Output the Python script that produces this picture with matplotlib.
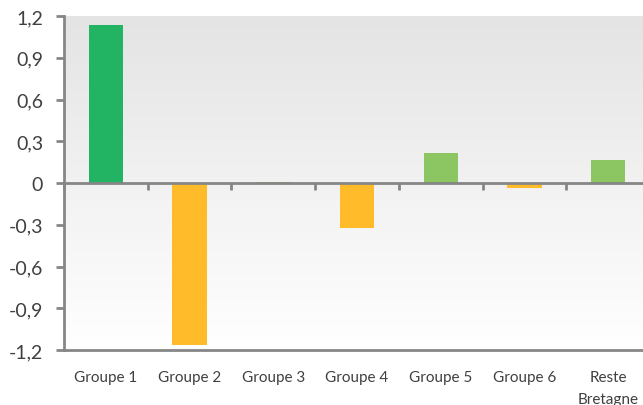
import numpy as np
import matplotlib.pyplot as plt
from matplotlib.ticker import FuncFormatter
from matplotlib.colors import LinearSegmentedColormap
from matplotlib.markers import TICKDOWN

categories = ["Groupe 1", "Groupe 2", "Groupe 3", "Groupe 4", "Groupe 5", "Groupe 6", "Reste\nBretagne"]
values = [1.135, -1.165, 0.004, -0.32, 0.215, -0.035, 0.165]
colors = ["#22B363", "#FFBB29", "#8BC662", "#FFBB29", "#8BC662", "#FFBB29", "#8BC662"]
yticks = [-1.2, -0.9, -0.6, -0.3, 0, 0.3, 0.6, 0.9, 1.2]

plt.rcParams['font.family'] = ['Lato', 'DejaVu Sans']

fig = plt.figure(figsize=(6.43, 4.06), dpi=100)
W, H = 643, 406
ax = fig.add_axes([64 / W, 55 / H, (650 - 64) / W, 334 / H])

x = np.arange(len(categories))
ax.bar(x, values, width=0.41, color=colors, zorder=3)

ax.set_xlim(-0.5, len(categories) - 0.5)
ax.set_ylim(-1.2, 1.2)

# gradient background of plot area
grad = np.linspace(0, 1, 256).reshape(-1, 1)
cmap = LinearSegmentedColormap.from_list('g', ['#FFFFFF', '#E4E4E4'])
ax.imshow(grad, extent=[-0.5, len(categories) - 0.5, -1.2, 1.2], aspect='auto',
          cmap=cmap, origin='lower', zorder=0)

axis_col = "#868686"
for s in ['top', 'right']:
    ax.spines[s].set_visible(False)
for s in ['left', 'bottom']:
    ax.spines[s].set_color(axis_col)
    ax.spines[s].set_linewidth(2)

ax.set_yticks(yticks)
ax.yaxis.set_major_formatter(FuncFormatter(lambda v, p: f"{v:g}".replace('.', ',')))
ax.tick_params(axis='y', colors=axis_col, length=6, width=2, pad=9, labelsize=14,
               labelcolor="#404040")
ax.set_xticks(x)
ax.set_xticklabels(categories, linespacing=1.75, va='top')
ax.tick_params(axis='x', length=0, pad=14.5, labelsize=11, labelcolor="#404040")

# zero line with category boundary ticks
bounds = np.arange(len(categories) + 1) - 0.5
ax.axhline(0, color=axis_col, lw=2, zorder=4)
ax.plot(bounds, np.zeros(len(bounds)), linestyle='none', marker=TICKDOWN,
        markersize=5, markeredgewidth=2, color=axis_col, zorder=4, clip_on=False)

fig.savefig("out.png", dpi=100)
